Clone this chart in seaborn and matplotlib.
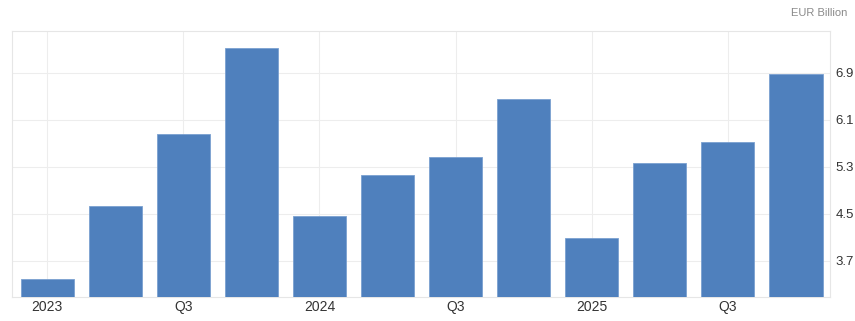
import matplotlib
matplotlib.use("Agg")
import matplotlib.pyplot as plt
import seaborn as sns
import pandas as pd

quarters = ["2023Q1", "2023Q2", "2023Q3", "2023Q4",
            "2024Q1", "2024Q2", "2024Q3", "2024Q4",
            "2025Q1", "2025Q2", "2025Q3", "2025Q4"]
values = [3.38, 4.63, 5.86, 7.33, 4.46, 5.16, 5.46, 6.46, 4.09, 5.37, 5.72, 6.88]
xtick_labels = ["2023", "", "Q3", "", "2024", "", "Q3", "", "2025", "", "Q3", ""]
ytick_values = [3.7, 4.5, 5.3, 6.1, 6.9]
unit_label = "EUR Billion"

sns.set_theme(style="white")
plt.rcParams['font.family'] = ['Liberation Sans', 'DejaVu Sans']

df = pd.DataFrame({"quarter": quarters, "value": values})

fig = plt.figure(figsize=(8.55, 3.21), dpi=100)
ax = fig.add_axes([12/855, 1 - 297.3/321, (830-12)/855, (297.3-30.5)/321])

sns.barplot(data=df, x="quarter", y="value", color="#4f80bd", width=0.78,
            saturation=1, ax=ax, edgecolor="#7aa0d0", linewidth=0.6, zorder=3)

ax.set_xlim(-0.517, 11.50)
ax.set_ylim(3.075, 7.62)

# ticks
ax.yaxis.tick_right()
ax.set_yticks(ytick_values)
ax.set_yticklabels([f"{v:.1f}" for v in ytick_values])
ax.set_xticks(range(len(quarters)))
ax.set_xticklabels(xtick_labels)
ax.tick_params(axis="y", length=0, pad=4, labelsize=9.5, labelcolor="#333333")
ax.tick_params(axis="x", length=0, pad=2, labelsize=10, labelcolor="#333333")
ax.set_xlabel("")
ax.set_ylabel("")

# grid
for v in ytick_values:
    ax.axhline(v, color="#ededed", lw=0.8, zorder=0)
for i, lab in enumerate(xtick_labels):
    if lab:
        ax.axvline(i, color="#ededed", lw=0.8, zorder=0)

for s in ["left", "right", "top", "bottom"]:
    ax.spines[s].set_visible(True)
    ax.spines[s].set_color("#e6e6e6")
    ax.spines[s].set_linewidth(0.8)

fig.text(847/855, 1 - 13/321, unit_label, ha="right", va="center",
         fontsize=8, color="#8a8a8a")

fig.savefig("out.png", dpi=100)
